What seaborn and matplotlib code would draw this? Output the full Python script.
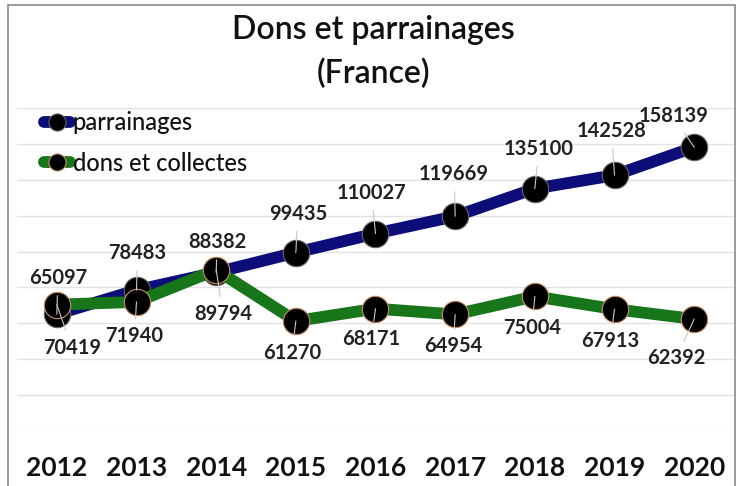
import matplotlib
matplotlib.use("Agg")
import matplotlib.pyplot as plt
import seaborn as sns
import pandas as pd
from matplotlib.patches import Rectangle

years = [2012, 2013, 2014, 2015, 2016, 2017, 2018, 2019, 2020]
parrainages = [65097, 78483, 88382, 99435, 110027, 119669, 135100, 142528, 158139]
dons = [70419, 71940, 89794, 61270, 68171, 64954, 75004, 67913, 62392]
series_names = ["parrainages", "dons et collectes"]
title = "Dons et parrainages\n(France)"

# label offsets in pixels (dx, dy)
off_p = [(1, 36), (1, 37), (1, 30), (2, 39), (-4, 41), (-1, 42), (4, 40), (-3, 44), (-21, 31)]
off_d = [(15, -43), (-2, -34), (7, -44), (-4, -32), (-4, -30), (-2, -32), (-3, -32), (-4, -32), (-18, -39)]

sns.set_style("white")
plt.rcParams["font.family"] = ["Lato", "DejaVu Sans"]

W, H = 742, 486
fig = plt.figure(figsize=(W / 100, H / 100), dpi=100)
fig.patch.set_facecolor("white")
# outer frame
fig.add_artist(Rectangle((8 / W, -0.05), (735 - 8) / W, 1.05 - 5 / H,
                         transform=fig.transFigure, fill=False,
                         edgecolor="#8a8a8a", lw=1.2))

ax = fig.add_axes([17 / W, (H - 431) / H, (734 - 17) / W, (431 - 108) / H])

idx = list(range(len(years)))
df_p = pd.DataFrame({"x": idx, "y": parrainages})
df_d = pd.DataFrame({"x": idx, "y": dons})

blue = "#0d0d7a"
green = "#17751a"

sns.lineplot(data=df_p, x="x", y="y", ax=ax, color=blue, lw=8.5, marker="o",
             markersize=19, markerfacecolor="black", markeredgecolor="#666666",
             markeredgewidth=0.8, label=series_names[0], zorder=3)
sns.lineplot(data=df_d, x="x", y="y", ax=ax, color=green, lw=8.5, marker="o",
             markersize=19, markerfacecolor="black", markeredgecolor="#c89060",
             markeredgewidth=0.8, label=series_names[1], zorder=4)

ax.set_xlim(-0.5, len(years) - 0.5)
ax.set_ylim(0, 180000)
ax.set_yticks(range(0, 180001, 20000))
ax.yaxis.grid(True, color="#e2e2e2", lw=1.0)
ax.set_axisbelow(True)
ax.set_yticklabels([])
ax.tick_params(axis="y", length=0)
ax.set_xticks(idx)
ax.set_xticklabels([str(y) for y in years], fontsize=19, fontweight="bold", color="#111111")
ax.tick_params(axis="x", length=0, pad=18)
ax.set_xlabel("")
ax.set_ylabel("")
for s in ax.spines.values():
    s.set_visible(False)

def annotate(vals, offs, z):
    for i, (v, (dx, dy)) in enumerate(zip(vals, offs)):
        ax.annotate(str(v), xy=(i, v), xytext=(dx, dy), textcoords="offset pixels",
                    ha="center", va="center", fontsize=14.5, fontweight="bold",
                    color="#222222", zorder=z,
                    arrowprops=dict(arrowstyle="-", color="#c8c8c8", lw=0.8,
                                    shrinkA=3, shrinkB=0))

annotate(parrainages, off_p, 5)
annotate(dons, off_d, 5)

leg = ax.legend(loc="upper left", bbox_to_anchor=(0.025, 1.02), frameon=False,
                fontsize=17, handlelength=1.1, handletextpad=0.1,
                labelspacing=0.75, markerscale=0.65, borderaxespad=0.0)
for t in leg.get_texts():
    t.set_color("#111111")
    t.set_fontweight("medium")

fig.text(0.503, 1 - 52 / H, title, ha="center", va="center", fontsize=23,
         fontweight="semibold", color="#111111", linespacing=1.55)

fig.savefig("out.png", dpi=100)
